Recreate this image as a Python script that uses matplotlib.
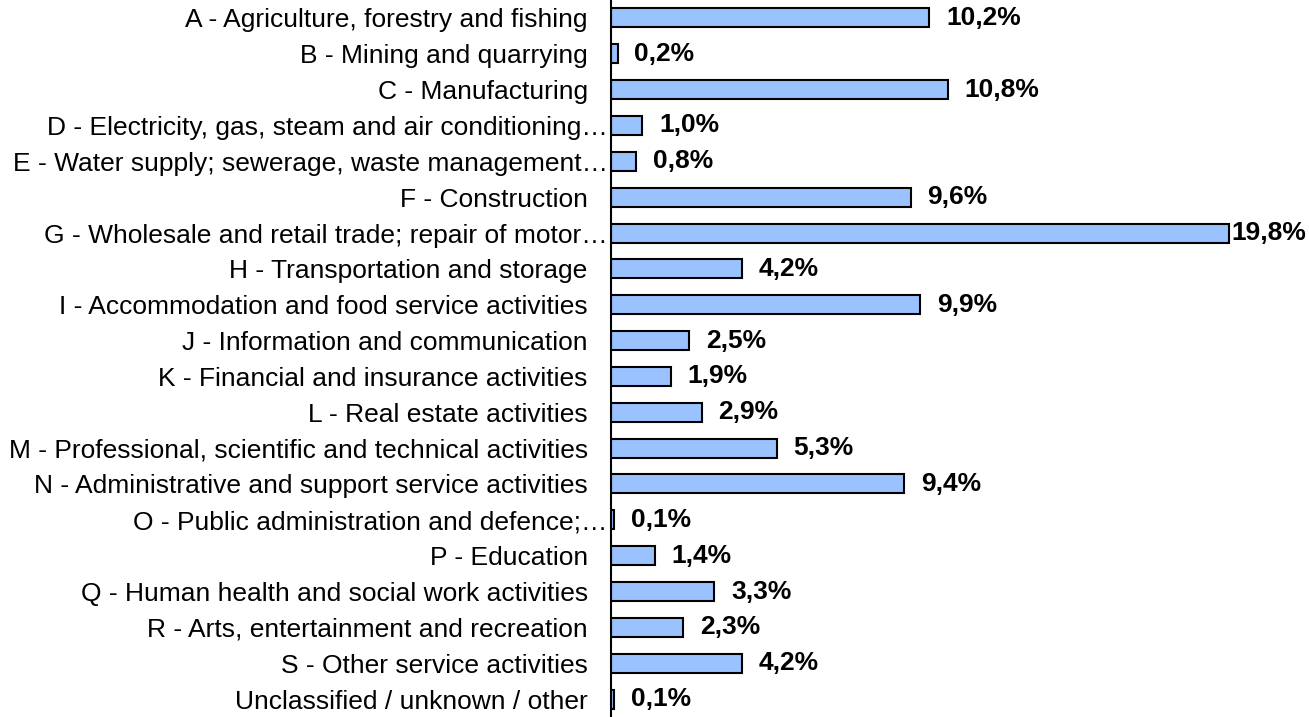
import numpy as np
import matplotlib
matplotlib.use('Agg')
from matplotlib import pyplot as plt

plt.rcParams['font.family'] = ['Liberation Sans', 'DejaVu Sans']

categories = [
    'A - Agriculture, forestry and fishing',
    'B - Mining and quarrying',
    'C - Manufacturing',
    'D - Electricity, gas, steam and air conditioning\u2026',
    'E - Water supply; sewerage, waste management\u2026',
    'F - Construction',
    'G - Wholesale and retail trade; repair of motor\u2026',
    'H - Transportation and storage',
    'I - Accommodation and food service activities',
    'J - Information and communication',
    'K - Financial and insurance activities',
    'L - Real estate activities',
    'M - Professional, scientific and technical activities',
    'N - Administrative and support service activities',
    'O - Public administration and defence;\u2026',
    'P - Education',
    'Q - Human health and social work activities',
    'R - Arts, entertainment and recreation',
    'S - Other service activities',
    'Unclassified / unknown / other',
]
shares = [10.2, 0.2, 10.8, 1.0, 0.8, 9.6, 19.8, 4.2, 9.9, 2.5,
          1.9, 2.9, 5.3, 9.4, 0.1, 1.4, 3.3, 2.3, 4.2, 0.1]

fig = plt.figure(figsize=(13.09, 7.17), dpi=100)
ax = fig.add_axes([0.467, 0.0, 0.533, 1.0])

y = np.arange(len(categories))
ax.barh(y, shares, height=0.53, color='#99C2FF', edgecolor='black', linewidth=1.5)

ax.set_ylim(len(categories) - 0.5, -0.5)
ax.set_xlim(0, 22.37)
ax.set_yticks(y)
ax.set_yticklabels(categories, fontsize=19)
ax.tick_params(axis='y', length=0, pad=17)
# truncated labels run closer to the axis
for tick, name in zip(ax.yaxis.get_major_ticks(), categories):
    if name.endswith('\u2026'):
        tick.set_pad(2.5)
ax.set_xticks([])
for s in ['top', 'right', 'bottom']:
    ax.spines[s].set_visible(False)
ax.spines['left'].set_linewidth(1.5)

top = max(shares)
for yi, v in zip(y, shares):
    off = 2 if v == top else 12
    ax.annotate(('%.1f%%' % v).replace('.', ','), (v, yi), xytext=(off, 0),
                textcoords='offset points', va='center', ha='left',
                fontsize=19, fontweight='bold')

fig.savefig('out.png', dpi=100)
